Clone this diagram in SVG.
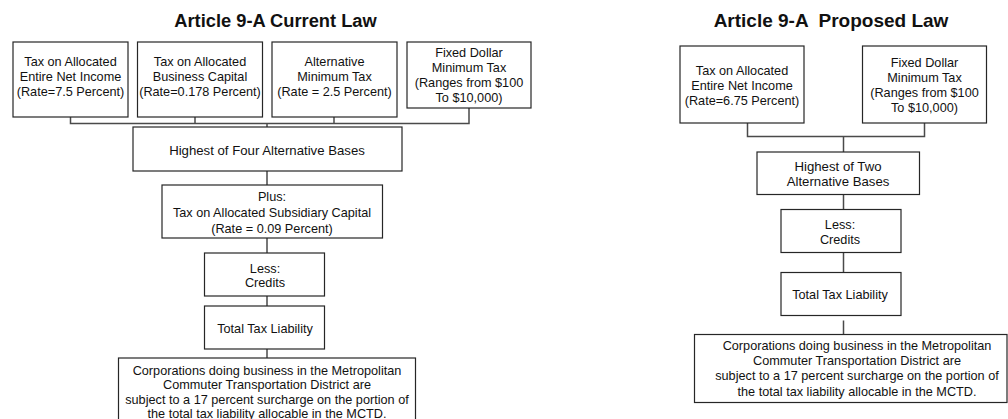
<svg xmlns="http://www.w3.org/2000/svg" width="1008" height="419" viewBox="0 0 1008 419">
  <style>
    .box { fill: #fff; stroke: #262626; stroke-width: 1.2; }
    .wire { fill: none; stroke: #4a4a4a; stroke-width: 1.5; }
    text { font-family: "Liberation Sans", Arial, sans-serif; fill: #111; text-anchor: middle; }
    .t { font-size: 12.7px; }
    .tl { font-size: 13.2px; }
    .title { font-weight: bold; }
  </style>
  <rect width="1008" height="419" fill="#fff"/>

  <!-- Titles -->
  <text id="title-current" class="title" x="275.5" y="26.5" font-size="18.3">Article 9-A Current Law</text>
  <text id="title-proposed" class="title" x="831" y="26.5" font-size="19" xml:space="preserve">Article 9-A  Proposed Law</text>

  <!-- Connectors -->
  <g id="connectors">
    <!-- current law -->
    <polyline class="wire" points="70.5,117 70.5,123.5 469,123.5 469,108"/>
    <line class="wire" x1="195" y1="117" x2="195" y2="123.5"/>
    <line class="wire" x1="334" y1="117" x2="334" y2="123.5"/>
    <line class="wire" x1="267" y1="123.5" x2="267" y2="127"/>
    <line class="wire" x1="267" y1="171" x2="267" y2="185"/>
    <line class="wire" x1="267" y1="238" x2="267" y2="253"/>
    <line class="wire" x1="267" y1="296" x2="267" y2="306"/>
    <line class="wire" x1="267" y1="349" x2="267" y2="358"/>
    <!-- proposed law -->
    <polyline class="wire" points="747.5,123 747.5,136.5 924.5,136.5 924.5,123"/>
    <line class="wire" x1="843.5" y1="136.5" x2="843.5" y2="152"/>
    <line class="wire" x1="843.5" y1="194.5" x2="843.5" y2="209.5"/>
    <line class="wire" x1="843.5" y1="252.5" x2="843.5" y2="272.5"/>
    <line class="wire" x1="843.5" y1="320.5" x2="843.5" y2="334.5"/>
  </g>

  <!-- Current law nodes -->
  <g id="c-net-income">
    <rect class="box" x="13" y="42" width="115" height="75"/>
    <text class="t" x="70.5" y="65.5">Tax on Allocated</text>
    <text class="t" x="70.5" y="80.5">Entire Net Income</text>
    <text class="t" x="70.5" y="95.5">(Rate=7.5 Percent)</text>
  </g>
  <g id="c-business-capital">
    <rect class="box" x="137.5" y="42" width="125" height="75"/>
    <text class="t" x="200" y="65.5">Tax on Allocated</text>
    <text class="t" x="200" y="80.5">Business Capital</text>
    <text class="t" x="200" y="95.5">(Rate=0.178 Percent)</text>
  </g>
  <g id="c-amt">
    <rect class="box" x="272" y="42" width="125" height="75"/>
    <text class="t" x="334.5" y="65.5">Alternative</text>
    <text class="t" x="334.5" y="80.5">Minimum Tax</text>
    <text class="t" x="334.5" y="95.5">(Rate = 2.5 Percent)</text>
  </g>
  <g id="c-fixed-dollar">
    <rect class="box" x="407" y="42" width="124" height="66"/>
    <text class="t" x="469" y="57">Fixed Dollar</text>
    <text class="t" x="469" y="72">Minimum Tax</text>
    <text class="t" x="469" y="87">(Ranges from $100</text>
    <text class="t" x="469" y="102">To $10,000)</text>
  </g>
  <g id="c-highest">
    <rect class="box" x="133" y="127" width="269" height="44"/>
    <text class="tl" x="267" y="155">Highest of Four Alternative Bases</text>
  </g>
  <g id="c-plus">
    <rect class="box" x="162" y="185" width="220.5" height="53"/>
    <text class="t" x="272" y="201">Plus:</text>
    <text class="t" x="272" y="217">Tax on Allocated Subsidiary Capital</text>
    <text class="t" x="272" y="233">(Rate = 0.09 Percent)</text>
  </g>
  <g id="c-credits">
    <rect class="box" x="204.5" y="253" width="120" height="43"/>
    <text class="t" x="265" y="272.5">Less:</text>
    <text class="t" x="265" y="287">Credits</text>
  </g>
  <g id="c-total">
    <rect class="box" x="204.5" y="306" width="120" height="43"/>
    <text class="t" x="265" y="333">Total Tax Liability</text>
  </g>
  <g id="c-surcharge">
    <rect class="box" x="118.5" y="358" width="297" height="80"/>
    <text class="t" x="267" y="374.5">Corporations doing business in the Metropolitan</text>
    <text class="t" x="267" y="389">Commuter Transportation District are</text>
    <text class="t" x="267" y="403.5">subject to a 17 percent surcharge on the portion of</text>
    <text class="t" x="267" y="418">the total tax liability allocable in the MCTD.</text>
  </g>

  <!-- Proposed law nodes -->
  <g id="p-net-income">
    <rect class="box" x="680" y="46" width="124" height="77"/>
    <text class="t" x="742" y="74.5">Tax on Allocated</text>
    <text class="t" x="742" y="89.5">Entire Net Income</text>
    <text class="t" x="742" y="104.5">(Rate=6.75 Percent)</text>
  </g>
  <g id="p-fixed-dollar">
    <rect class="box" x="862.5" y="46" width="124" height="77"/>
    <text class="t" x="924.5" y="67">Fixed Dollar</text>
    <text class="t" x="924.5" y="82">Minimum Tax</text>
    <text class="t" x="924.5" y="97">(Ranges from $100</text>
    <text class="t" x="924.5" y="112">To $10,000)</text>
  </g>
  <g id="p-highest">
    <rect class="box" x="757" y="152" width="162.5" height="42.5"/>
    <text class="tl" x="838" y="171">Highest of Two</text>
    <text class="tl" x="838" y="186">Alternative Bases</text>
  </g>
  <g id="p-credits">
    <rect class="box" x="781" y="209.5" width="120" height="43"/>
    <text class="t" x="840" y="228.5">Less:</text>
    <text class="t" x="840" y="243.5">Credits</text>
  </g>
  <g id="p-total">
    <rect class="box" x="781" y="272.5" width="120" height="43"/>
    <text class="t" x="840" y="298.5">Total Tax Liability</text>
  </g>
  <g id="p-surcharge">
    <rect class="box" x="694.5" y="334.5" width="312.5" height="68"/>
    <text class="t" x="857" y="349.5">Corporations doing business in the Metropolitan</text>
    <text class="t" x="857" y="365">Commuter Transportation District are</text>
    <text class="t" x="857" y="380">subject to a 17 percent surcharge on the portion of</text>
    <text class="t" x="857" y="395.5">the total tax liability allocable in the MCTD.</text>
  </g>
</svg>
